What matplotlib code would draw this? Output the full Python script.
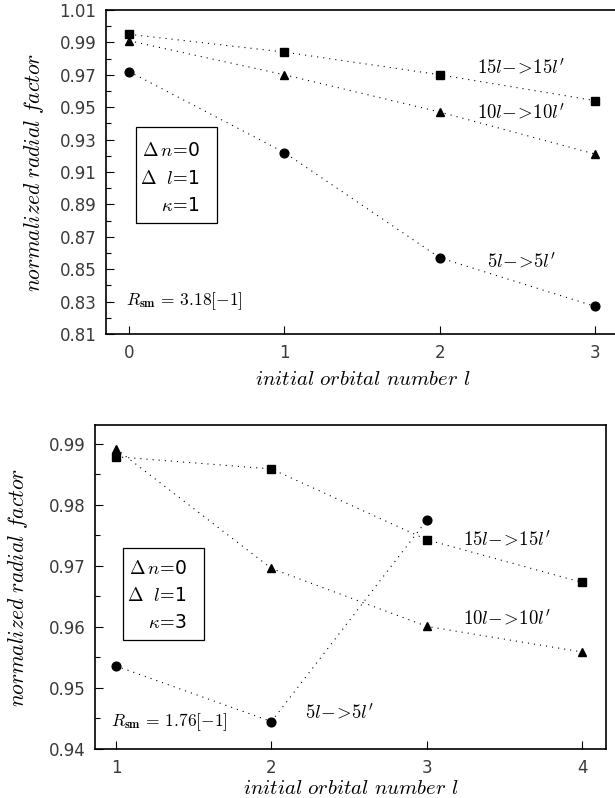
import matplotlib
matplotlib.use('Agg')
import matplotlib.pyplot as plt
from matplotlib.ticker import MultipleLocator, FixedLocator, FormatStrFormatter
from matplotlib.patches import Rectangle

plt.rcParams['mathtext.fontset'] = 'cm'
plt.rcParams['font.family'] = 'DejaVu Sans'

# ---- data: kappa = 1 (upper panel)
l_top = [0, 1, 2, 3]
r15_top = [0.995, 0.984, 0.970, 0.954]
r10_top = [0.991, 0.970, 0.947, 0.921]
r5_top = [0.972, 0.922, 0.857, 0.827]
yticks_top = [0.81, 0.83, 0.85, 0.87, 0.89, 0.91, 0.93, 0.95, 0.97, 0.99, 1.01]

# ---- data: kappa = 3 (lower panel)
l_bot = [1, 2, 3, 4]
r15_bot = [0.9879, 0.9859, 0.9743, 0.9673]
r10_bot = [0.9892, 0.9696, 0.9601, 0.9559]
l5_bot = [1, 2, 3]
r5_bot = [0.9536, 0.9445, 0.9775]
yticks_bot = [0.94, 0.95, 0.96, 0.97, 0.98, 0.99]

lab15 = r"$15l\!-\!\!>\!15l'$"
lab10 = r"$10l\!-\!\!>\!10l'$"
lab5 = r"$5l\!-\!\!>\!5l'$"
ylab = r'$normalized\ radial\ factor$'
xlab = r'$initial\ orbital\ number\ l$'

fig = plt.figure(figsize=(6.15, 7.98), dpi=100)
ax1 = fig.add_axes([0.1724, 0.5815, 0.836, 0.406])
ax2 = fig.add_axes([0.1545, 0.0614, 0.831, 0.406])

dot = dict(color='k', lw=0.8, ls=(0, (1, 4.5)))
ms = 6.3


def style(ax):
    ax.tick_params(which='both', direction='in', labelsize=12, pad=7,
                   labelcolor='#3a3a3a')
    ax.tick_params(which='major', length=6, width=0.8)
    ax.tick_params(which='minor', length=3.5, width=0.8)
    ax.tick_params(axis='y', which='both', right=False)
    ax.tick_params(axis='x', which='both', top=False)
    for s in ax.spines.values():
        s.set_linewidth(1.2)


def infobox(ax, x0, y0, x1, y1, xt, ys, kap):
    ax.add_patch(Rectangle((x0, y0), x1 - x0, y1 - y0, fill=False, lw=0.9, ec='k'))
    txt = [r'$\Delta\,n\!=\!$0', r'$\Delta\ \ l\!=\!$1', r'$\kappa\!=\!$' + kap]
    for t, y in zip(txt, ys):
        ax.text(xt, y, t, ha='right', va='center', fontsize=13.5)


# upper panel
ax1.plot(l_top, r15_top, marker='s', ms=ms, mfc='k', mec='k', **dot)
ax1.plot(l_top, r10_top, marker='^', ms=ms, mfc='k', mec='k', **dot)
ax1.plot(l_top, r5_top, marker='o', ms=ms, mfc='k', mec='k', **dot)
ax1.set_xlim(-0.148, 3.16)
ax1.set_ylim(0.81, 1.01)
ax1.xaxis.set_major_locator(MultipleLocator(1))
ax1.yaxis.set_major_locator(FixedLocator(yticks_top))
ax1.yaxis.set_minor_locator(MultipleLocator(0.01))
ax1.yaxis.set_major_formatter(FormatStrFormatter('%.2f'))
style(ax1)
ax1.text(2.24, 0.9748, lab15, fontsize=13.5, va='center')
ax1.text(2.24, 0.947, lab10, fontsize=13.5, va='center')
ax1.text(2.30, 0.855, lab5, fontsize=13.5, va='center')
infobox(ax1, 0.045, 0.8785, 0.567, 0.9378, 0.457, [0.923, 0.9057, 0.8896], '1')
ax1.text(-0.02, 0.830, r'$R_{\mathbf{sm}}\,=\,\mathrm{3.18[-1]}$', fontsize=12.5, va='center')
ax1.set_xlabel(xlab, fontsize=15, labelpad=5)
ax1.set_ylabel(ylab, fontsize=15.5)
ax1.yaxis.set_label_coords(-0.117, 0.5)

# lower panel
ax2.plot(l_bot, r15_bot, marker='s', ms=ms, mfc='k', mec='k', **dot)
ax2.plot(l_bot, r10_bot, marker='^', ms=ms, mfc='k', mec='k', **dot)
ax2.plot(l5_bot, r5_bot, marker='o', ms=ms, mfc='k', mec='k', **dot)
ax2.set_xlim(0.865, 4.154)
ax2.set_ylim(0.94, 0.9931)
ax2.xaxis.set_major_locator(MultipleLocator(1))
ax2.yaxis.set_major_locator(FixedLocator(yticks_bot))
ax2.yaxis.set_minor_locator(MultipleLocator(0.005))
ax2.yaxis.set_major_formatter(FormatStrFormatter('%.2f'))
style(ax2)
ax2.text(3.23, 0.9743, lab15, fontsize=13.5, va='center')
ax2.text(3.23, 0.9614, lab10, fontsize=13.5, va='center')
ax2.text(2.215, 0.946, lab5, fontsize=13.5, va='center')
infobox(ax2, 1.045, 0.9579, 1.567, 0.9729, 1.456, [0.9696, 0.9651, 0.9608], '3')
ax2.text(0.967, 0.9444, r'$R_{\mathbf{sm}}\,=\,\mathrm{1.76[-1]}$', fontsize=12.5, va='center')
ax2.set_xlabel(xlab, fontsize=15, labelpad=1)
ax2.set_ylabel(ylab, fontsize=15.5)
ax2.yaxis.set_label_coords(-0.128, 0.5)

fig.savefig('out.png', dpi=100)
